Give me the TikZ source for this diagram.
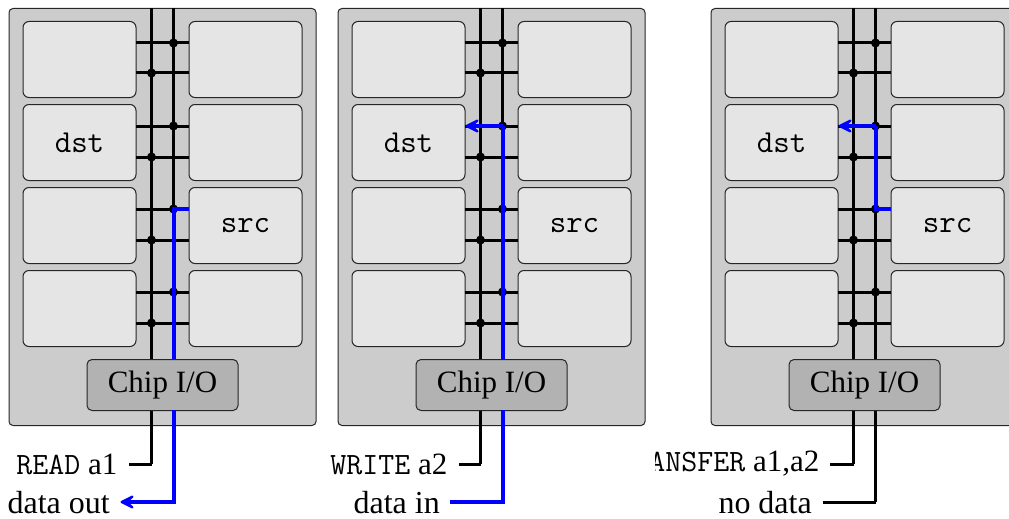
\documentclass[tikz,border=0pt]{standalone}
\usepackage{fontspec}
\setmainfont{Liberation Serif}
\usetikzlibrary{arrows.meta,shadows,calc}
\definecolor{panelc}{gray}{0.8}
\definecolor{cellc}{gray}{0.9}
\definecolor{chipc}{gray}{0.7}
\tikzset{
  panelbox/.style={draw=black!85,line width=1pt,fill=panelc,rounded corners=4,minimum width=307,minimum height=417,inner sep=0,anchor=north west},
  cellbox/.style={draw=black!85,line width=1pt,fill=cellc,rounded corners=6,minimum width=113,minimum height=76,inner sep=0,anchor=north west,font=\ttfamily\fontsize{32}{36}\selectfont},
  chipbox/.style={draw=black!85,line width=1pt,fill=chipc,rounded corners=5,minimum width=151,minimum height=51,inner sep=0,anchor=north west,font=\fontsize{31}{35}\selectfont,drop shadow={shadow xshift=0pt,shadow yshift=0pt,opacity=0.35}},
  wire/.style={line width=3pt,black},
  thin wire/.style={line width=3pt,black},
  blue wire/.style={line width=4pt,blue,line join=miter},
  arrowed/.style={-{Stealth[length=20,width=20,inset=11,round,line width=3pt,fill=blue]}},
  jdot/.style={circle,fill=black,inner sep=0,minimum size=9},
  lab/.style={anchor=east,inner sep=0,font=\fontsize{32}{36}\selectfont},
  cmdlab/.style={anchor=east,inner sep=0,font=\fontsize{31}{35}\selectfont},
}
\newcommand{\chippanel}[5]{%
  \begin{scope}[shift={(#2,0)}]
    \node[panelbox] (#1p) at (9,-8) {};
    \foreach \yy/\r in {21/a,104/b,187/c,270/d}{
      \node[cellbox] (#1l\r) at (23,-\yy) {\ifx\r\dstrow #3\fi};
      \node[cellbox] (#1r\r) at (189,-\yy) {\ifx\r\srcrow #4\fi};
    }
    \coordinate (#1wtA) at (152,-8);
    \coordinate (#1wtB) at (174,-8);
    \coordinate (#1wbA) at (152,-#5);
    \coordinate (#1wbB) at (174,-502);
    \draw[wire] (#1wtA) -- (#1wbA);
    \draw[wire] (#1wtB) -- (#1wbB);
    \foreach \r/\ya/\yb in {a/43/73,b/126/157,c/209/240,d/292/323}{
      \coordinate (#1j\r1) at (174,-\ya);
      \coordinate (#1j\r2) at (152,-\yb);
      \draw[thin wire] (136,-\ya) -- (189,-\ya);
      \draw[thin wire] (136,-\yb) -- (189,-\yb);
      \node[jdot] at (#1j\r1) {};
      \node[jdot] at (#1j\r2) {};
    }
  \end{scope}
}
\def\dstrow{b}\def\srcrow{c}
\newcommand{\chipnode}[2]{\node[chipbox] (#1c) at (#2+87,-359) {Chip I/O};}
\begin{document}
\begin{tikzpicture}[x=1pt,y=1pt]
\useasboundingbox (0.5,0) rectangle (1009.5,-519);
\begin{scope}
\clip (0.5,0) rectangle (1009.5,-519);
% panel 1
\chippanel{A}{0}{dst}{src}{464}
\draw[blue wire] (Arc.west|-Ajc1) -- (Ajc1) -- (AwbB);
\chipnode{A}{0}
\coordinate (Afree) at (121,-502);
\draw[blue wire,arrowed] (174,-410) -- (AwbB) -- (Afree);
\coordinate (Astub) at (129,-464);
\draw[wire] (AwbA) -- (Astub);
\node[cmdlab] (Al1) at (118,-464) {{\ttfamily READ} a1};
\node[lab] (Al2) at (110.5,-503) {data out};
% panel 2
\chippanel{B}{329}{dst}{src}{464}
\draw[blue wire] (Bjb1) -- (BwbB);
\draw[blue wire,arrowed] (Bjb1) -- (Blb.east|-Bjb1);
\chipnode{B}{329}
\coordinate (Bfree) at (450,-502);
\draw[blue wire] (503,-410) -- (BwbB) -- (Bfree);
\coordinate (Bstub) at (459,-464);
\draw[wire] (BwbA) -- (Bstub);
\node[cmdlab] (Bl1) at (448,-464) {{\ttfamily WRITE} a2};
\node[lab] (Bl2) at (440.5,-503) {data in};
% panel 3
\chippanel{C}{702}{dst}{src}{464}
\draw[blue wire] (Crc.west|-Cjc1) -- (Cjc1) -- (Cjb1);
\draw[blue wire,arrowed] (Cjb1) -- (Clb.east|-Cjb1);
\chipnode{C}{702}
\coordinate (Cfree) at (823,-502);
\draw[wire] (CwbB) -- (Cfree);
\coordinate (Cstub) at (830,-464);
\draw[wire] (CwbA) -- (Cstub);
\begin{scope}
\clip (656,-440) rectangle (1009.5,-485);
\node[cmdlab] (Cl1) at (820,-464) {{\ttfamily TRANSFER} a1,a2};
\end{scope}
\node[lab] (Cl2) at (812.5,-503) {no data};
\end{scope}
\end{tikzpicture}
\end{document}
